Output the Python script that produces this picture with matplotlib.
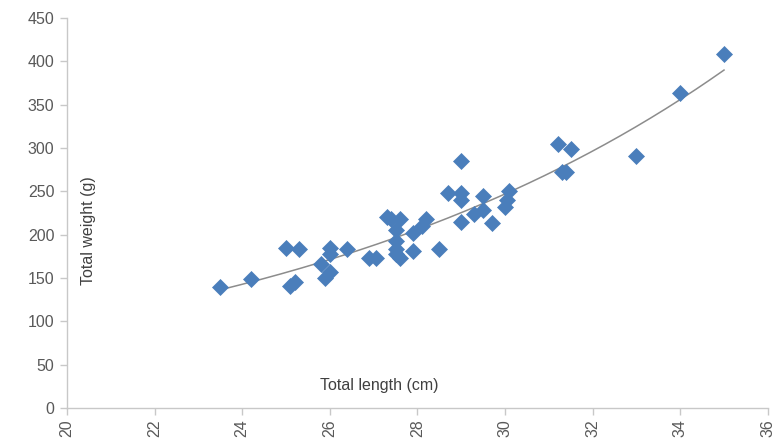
import numpy as np
import matplotlib
matplotlib.use("Agg")
import matplotlib.pyplot as plt

# Data
length_cm = [23.5, 24.2, 25.0, 25.3, 25.1, 25.2, 25.8, 25.9, 26.0, 26.0,
             26.0, 26.4, 26.9, 27.05, 27.3, 27.4, 27.6, 27.5, 27.5, 27.5,
             27.5, 27.6, 27.9, 27.9, 28.1, 28.2, 28.5, 28.7, 29.0, 29.0,
             29.0, 29.0, 29.3, 29.5, 29.5, 29.7, 30.0, 30.05, 30.1, 31.2,
             31.3, 31.4, 31.5, 33.0, 34.0, 35.0]
weight_g = [140, 149, 185, 183, 141, 145, 166, 150, 157, 178,
            185, 183, 173, 173, 220, 218, 218, 205, 193, 184,
            178, 173, 202, 181, 210, 218, 183, 248, 285, 248,
            240, 215, 224, 228, 245, 213, 232, 240, 250, 305,
            272, 272, 299, 291, 364, 409]

x_ticks = [20, 22, 24, 26, 28, 30, 32, 34, 36]
y_ticks = [0, 50, 100, 150, 200, 250, 300, 350, 400, 450]

plt.rcParams['font.family'] = ['Liberation Sans', 'DejaVu Sans']

fig = plt.figure(figsize=(7.74, 4.41), dpi=100)
ax = fig.add_axes([0.0866, 0.0748, 0.9054, 0.8842])

x = np.array(length_cm)
y = np.array(weight_g)

# exponential trendline (least squares on log(y), like a spreadsheet trendline)
k, loga = np.polyfit(x, np.log(y), 1)
xf = np.linspace(x.min(), x.max(), 200)
yf = np.exp(loga + k * xf)
ax.plot(xf, yf, color='#8c8c8c', lw=1.1, zorder=2)

ax.plot(x, y, linestyle='none', marker='D', markersize=7.8,
        color='#4a7ebb', markeredgecolor='#4a7ebb', markeredgewidth=0.5,
        zorder=3)

ax.set_xlim(20, 36)
ax.set_ylim(0, 450)
ax.set_xticks(x_ticks)
ax.set_yticks(y_ticks)
ax.set_xticklabels([str(t) for t in x_ticks], rotation=90)

for s in ['top', 'right']:
    ax.spines[s].set_visible(False)
for s in ['left', 'bottom']:
    ax.spines[s].set_color('#c8c8c8')
    ax.spines[s].set_linewidth(1.0)
ax.tick_params(axis='both', colors='#c8c8c8', labelcolor='#595959',
               labelsize=11.5, length=5, width=1.0, direction='out')
ax.tick_params(axis='x', pad=3)
ax.tick_params(axis='y', pad=4)

ax.text(0.446, 0.059, 'Total length (cm)', transform=ax.transAxes,
        ha='center', va='center', fontsize=11.5, color='#404040')
ax.text(0.030, 0.456, 'Total weight (g)', transform=ax.transAxes,
        ha='center', va='center', rotation=90, fontsize=11.5, color='#404040')

fig.savefig('out.png', dpi=100)
